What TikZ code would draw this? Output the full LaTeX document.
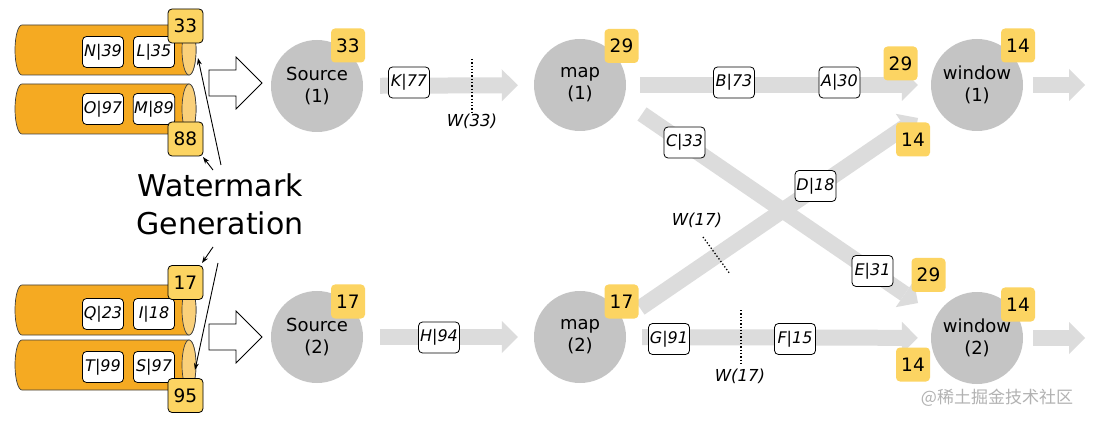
\documentclass[tikz,border=0pt]{standalone}
\usepackage{fontspec}
\setmainfont{DejaVu Sans}
\newfontfamily\cjk{Noto Sans CJK SC}
\usetikzlibrary{arrows.meta}
\definecolor{qorange}{HTML}{F5AA22}
\definecolor{qendc}{HTML}{FAD07A}
\definecolor{badgey}{HTML}{FCD462}
\definecolor{opgray}{HTML}{C4C4C4}
\definecolor{flowgray}{HTML}{DCDCDC}
\begin{document}
\begin{tikzpicture}[x=1pt,y=-1pt,
 msg/.style={draw=black, line width=0.8pt, fill=white, rounded corners=4pt, minimum width=41pt, minimum height=31pt, inner sep=1pt, font=\fontsize{16}{19}\selectfont\itshape},
 qbadge/.style={draw=black, line width=0.8pt, fill=badgey, rounded corners=4pt, minimum width=35pt, minimum height=34pt, inner sep=0pt, font=\fontsize{18.5}{21}\selectfont},
 badge/.style={fill=badgey, rounded corners=4pt, minimum width=34pt, minimum height=34pt, inner sep=0pt, font=\fontsize{18.5}{21}\selectfont},
 op/.style={circle, fill=opgray, minimum size=92pt, inner sep=0pt, align=center, font=\fontsize{18}{22}\selectfont},
 flow/.style={draw=flowgray, line width=16pt, -{Triangle[length=16pt,width=32pt,line width=0pt]}},
 wlabel/.style={font=\fontsize{16.5}{19}\selectfont\itshape, inner sep=1pt},
 dotline/.style={dotted, line width=1.3pt},
 note/.style={-{Stealth[length=7pt,width=5pt]}, line width=0.9pt},
 hollow/.style={draw=black, line width=0.8pt, fill=white, line join=miter},
]
\useasboundingbox (0,0) rectangle (1093,422);
\fill[white] (0,0) rectangle (1093,422);

% queues
\foreach \t/\b in {25/75, 84/134, 285/335, 340/390} {
  \pgfmathsetmacro\ry{(\b-\t)/2}
  \pgfmathsetmacro\cy{(\t+\b)/2}
  \filldraw[fill=qorange, draw=black!75, line width=0.7pt] (189,\t) -- (22,\t)
     arc[start angle=90,end angle=270,x radius=7pt,y radius=\ry pt] -- (189,\b)
     arc[start angle=-90,end angle=90,x radius=7pt,y radius=\ry pt] -- cycle;
  \filldraw[fill=qendc, draw=black!75, line width=0.7pt] (189,\cy) ellipse[x radius=7pt, y radius=\ry pt];
}
\node[msg] (n39) at (103,52) {N|39};
\node[msg] (l35) at (154,52) {L|35};
\node[msg] (o97) at (103,109) {O|97};
\node[msg] (m89) at (154,109) {M|89};
\node[msg] (q23) at (103,314) {Q|23};
\node[msg] (i18) at (154,314) {I|18};
\node[msg] (t99) at (103,367) {T|99};
\node[msg] (s97) at (154,367) {S|97};
\node[qbadge] (qb1) at (185.5,26) {33};
\node[qbadge] (qb2) at (185.5,139) {88};
\node[qbadge] (qb3) at (185.5,282.5) {17};
\node[qbadge] (qb4) at (185.5,395.5) {95};

% watermark generation
\node[font=\fontsize{30}{38}\selectfont, align=center, inner sep=0pt] (wg) at (220,204.6) {Watermark\\Generation};
\coordinate (g1s) at (221,165); \coordinate (g1e) at (198,58);
\coordinate (g2s) at (213,170); \coordinate (g2e) at (203,157);
\coordinate (g3s) at (213,247); \coordinate (g3e) at (202,263);
\coordinate (g4s) at (218,263); \coordinate (g4e) at (195,370);
\draw[note] (g1s) -- (g1e);
\draw[note] (g2s) -- (g2e);
\draw[note] (g3s) -- (g3e);
\draw[note] (g4s) -- (g4e);

% hollow arrows
\draw[hollow] (209,70) -- (236,70) -- (236,57) -- (262,83) -- (236,109) -- (236,96) -- (209,96) -- cycle;
\draw[hollow] (209,324) -- (236,324) -- (236,311) -- (262,337) -- (236,363) -- (236,350) -- (209,350) -- cycle;

% operators
\node[op] (s1) at (317,86) {Source\\(1)};
\node[op] (s2) at (317,337) {Source\\(2)};
\node[op] (m1) at (580,85) {map\\(1)};
\node[op] (m2) at (580,337) {map\\(2)};
\node[op] (w1) at (977,85) {window\\(1)};
\node[op] (w2) at (977,338) {window\\(2)};

% flows
\coordinate (d1s) at (642,114); \coordinate (d1e) at (918,303);
\coordinate (d2s) at (640,308); \coordinate (d2e) at (918,118);
\coordinate (w1o) at (1085,85); \coordinate (w2o) at (1085,338);
\draw[flow] (d1s) -- (d1e);
\draw[flow] (d2s) -- (d2e);
\draw[flow, shorten <=17pt, shorten >=16pt] (s1) -- (m1);
\draw[flow, shorten <=17pt, shorten >=16pt] (s2) -- (m2);
\draw[flow, shorten <=14pt, shorten >=13pt] (m1) -- (w1);
\draw[flow, shorten <=16pt, shorten >=13pt] (m2) -- (w2);
\draw[flow, shorten <=10pt] (w1) -- (w1o);
\draw[flow, shorten <=10pt] (w2) -- (w2o);

% watermarks in flows
\coordinate (wa1) at (472,59); \coordinate (wa2) at (472,112);
\draw[dotline] (wa1) -- (wa2);
\node[wlabel] (wl1) at (472,121) {W(33)};
\coordinate (wb1) at (703,237); \coordinate (wb2) at (730,274);
\draw[dotline] (wb1) -- (wb2);
\node[wlabel] (wl2) at (697,220) {W(17)};
\coordinate (wc1) at (741,310); \coordinate (wc2) at (741,363);
\draw[dotline] (wc1) -- (wc2);
\node[wlabel] (wl3) at (740,376) {W(17)};

% messages on flows
\node[msg] (k77) at (409,82.5) {K|77};
\node[msg] (b73) at (734,82.5) {B|73};
\node[msg] (a30) at (839.5,82.5) {A|30};
\node[msg] (c33) at (684.5,142.5) {C|33};
\node[msg] (d18) at (815.5,186) {D|18};
\node[msg] (e31) at (872.5,271) {E|31};
\node[msg] (h94) at (439,337.5) {H|94};
\node[msg] (g91) at (669,339) {G|91};
\node[msg] (f15) at (795,339) {F|15};

% badges
\node[badge] (bs1) at (348,45.5) {33};
\node[badge] (bs2) at (348,301.5) {17};
\node[badge] (bm1) at (621.5,46) {29};
\node[badge] (bm2) at (621.5,301.5) {17};
\node[badge] (bw1) at (1018,45.5) {14};
\node[badge] (bw2) at (1018,304.5) {14};
\node[badge] (be1) at (900.5,63.5) {29};
\node[badge] (be2) at (913,139.5) {14};
\node[badge] (be3) at (928.5,275) {29};
\node[badge] (be4) at (913,364.5) {14};

\node[font=\cjk\fontsize{17}{20}\selectfont, text=black!30, inner sep=0pt] (site) at (997,398) {@稀土掘金技术社区};
\end{tikzpicture}
\end{document}
